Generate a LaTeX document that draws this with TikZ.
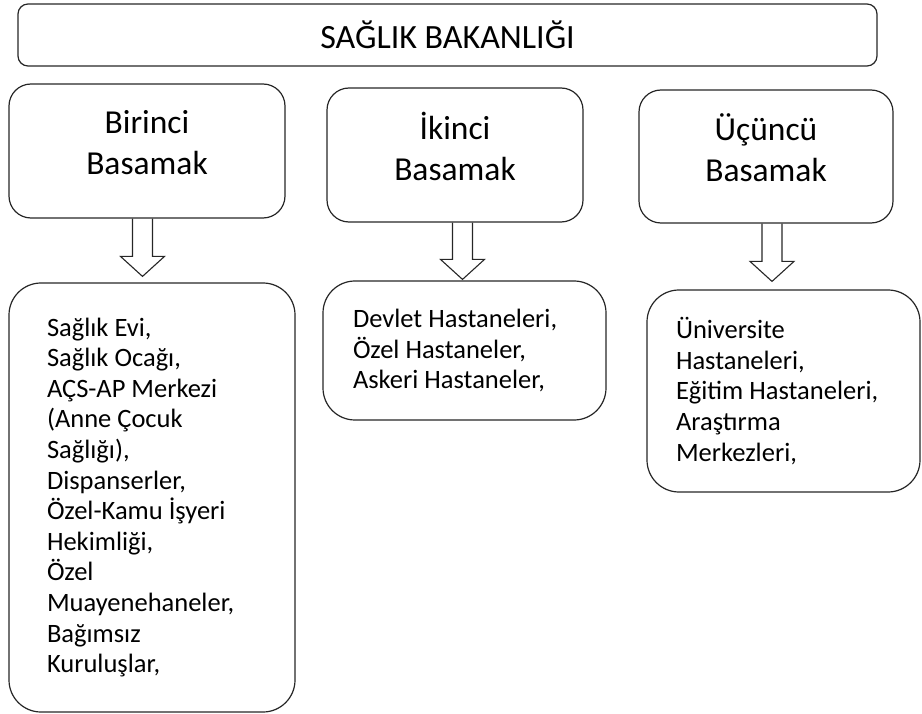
\documentclass[tikz,border=0pt]{standalone}
\usepackage{fontspec}
\setmainfont{Carlito}
\usetikzlibrary{positioning,calc}

\tikzset{
  kutu/.style={draw=black!85, line width=1.2pt, rounded corners=22pt, align=center, inner sep=0pt, font=\fontsize{33.5}{41}\selectfont},
  liste/.style={draw=black!85, line width=1.2pt, rounded corners=32pt, align=flush left, font=\fontsize{26.5}{30.6}\selectfont},
  okcizgi/.style={draw=black!85, line width=1.1pt, line join=miter}
}
% hollow down arrow: #1 = top of shaft, #2 = tip
\newcommand{\blokok}[2]{%
  \draw[okcizgi] ($(#1)+(-10,0)$) -- ($(#2)+(-10,20)$) -- ($(#2)+(-22,20)$) -- (#2)
    -- ($(#2)+(22,20)$) -- ($(#2)+(10,20)$) -- ($(#1)+(10,0)$);}

\begin{document}
\begin{tikzpicture}[x=1pt,y=1pt]
\useasboundingbox (0,0) rectangle (922,-714);
\node [kutu, rounded corners=10pt, minimum width=859pt, minimum height=62pt, font=\fontsize{34}{40}\selectfont] (bakanlik) at (447.5,-35) {SAĞLIK BAKANLIĞI};
\node [kutu, text depth=18pt, minimum width=276pt, minimum height=134pt] (birinci) at (147,-151) {Birinci\\Basamak};
\node [kutu, text depth=18pt, minimum width=256pt, minimum height=134pt] (ikinci) at (455,-155) {İkinci\\Basamak};
\node [kutu, text depth=18pt, minimum width=254pt, minimum height=133pt] (ucuncu) at (766,-156.5) {Üçüncü\\Basamak};
\node [liste, text width=210pt, inner xsep=38pt, minimum height=429pt] (birinciliste) at (152,-497.5)
  {Sağlık Evi,\\Sağlık Ocağı,\\AÇS-AP Merkezi\\(Anne Çocuk\\Sağlığı),\\Dispanserler,\\Özel-Kamu İşyeri\\Hekimliği,\\Özel\\Muayenehaneler,\\Bağımsız\\Kuruluşlar,};
\node [liste, text width=223pt, inner xsep=30pt, minimum height=139pt] (ikinciliste) at (464.5,-350.5)
  {Devlet Hastaneleri,\\Özel Hastaneler,\\Askeri Hastaneler,};
\node [liste, text width=215pt, inner xsep=29pt, minimum height=202pt] (ucunculiste) at (783.5,-391)
  {Üniversite\\Hastaneleri,\\Eğitim Hastaneleri,\\Araştırma\\Merkezleri,};
\coordinate (ok1a) at ([xshift=-4.5pt]birinci.south);
\coordinate (ok1b) at ([xshift=-9.5pt,yshift=6pt]birinciliste.north);
\coordinate (ok2a) at ([xshift=7.5pt]ikinci.south);
\coordinate (ok2b) at ([xshift=-2pt,yshift=1pt]ikinciliste.north);
\coordinate (ok3a) at ([xshift=6pt]ucuncu.south);
\coordinate (ok3b) at ([xshift=-11.5pt,yshift=8pt]ucunculiste.north);
\blokok{ok1a}{ok1b}
\blokok{ok2a}{ok2b}
\blokok{ok3a}{ok3b}
\end{tikzpicture}
\end{document}
